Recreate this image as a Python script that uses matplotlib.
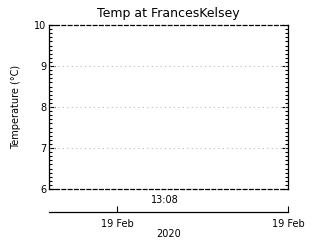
import matplotlib
matplotlib.use('Agg')
import matplotlib.pyplot as plt
from matplotlib.ticker import MultipleLocator

# chart content
title = 'Temp at FrancesKelsey'
y_label = 'Temperature (°C)'
y_ticks = [6, 7, 8, 9, 10]
grid_lines = [7, 8, 9]
time_label = '13:08'
date_ticks = [0.285, 1.0]
date_labels = ['19 Feb', '19 Feb']
year_label = '2020'
temps = []   # no readings drawn
times = []


def make_plot():
    fig = plt.figure(figsize=(3.2, 2.4), dpi=100)
    ax = fig.add_axes([0.153, 0.2125, 0.747, 0.683])
    ax.plot(times, temps, color='black')
    ax.set_ylim(y_ticks[0], y_ticks[-1])
    ax.set_xlim(0, 1)
    ax.set_yticks(y_ticks)
    ax.yaxis.set_minor_locator(MultipleLocator(0.1))
    ax.tick_params(axis='y', which='both', direction='in', left=True, right=True,
                   labelsize=7, pad=2, width=0.8)
    ax.tick_params(axis='y', which='major', length=4)
    ax.tick_params(axis='y', which='minor', length=2)
    ax.set_xticks([])
    for g in grid_lines:
        ax.axhline(g, color='#bbbbbb', lw=0.8, ls=(0, (1, 3)))
    for side in ['top', 'bottom']:
        ax.spines[side].set_linestyle((0, (3, 2)))
        ax.spines[side].set_linewidth(0.9)
    for side in ['left', 'right']:
        ax.spines[side].set_linewidth(0.9)
    ax.set_title(title, fontsize=9, pad=6)
    ax.yaxis.set_label_coords(-0.115, 0.5)
    ax.set_ylabel(y_label, fontsize=7)
    ax.text(0.485, -0.07, time_label, transform=ax.transAxes, fontsize=7,
            ha='center', va='center')

    # separate date axis below
    ax2 = fig.add_axes([0.153, 0.117, 0.747, 0.001])
    ax2.set_xlim(0, 1)
    ax2.set_yticks([])
    for side in ['top', 'left', 'right']:
        ax2.spines[side].set_visible(False)
    ax2.spines['bottom'].set_linewidth(0.9)
    ax2.set_xticks(date_ticks)
    ax2.set_xticklabels(date_labels)
    ax2.tick_params(axis='x', direction='in', length=4, width=0.8,
                    labelsize=7, pad=5)
    ax2.set_xlabel(year_label, fontsize=7, labelpad=0)

    fig.savefig('out.png', dpi=100)


if __name__ == '__main__':
    make_plot()
